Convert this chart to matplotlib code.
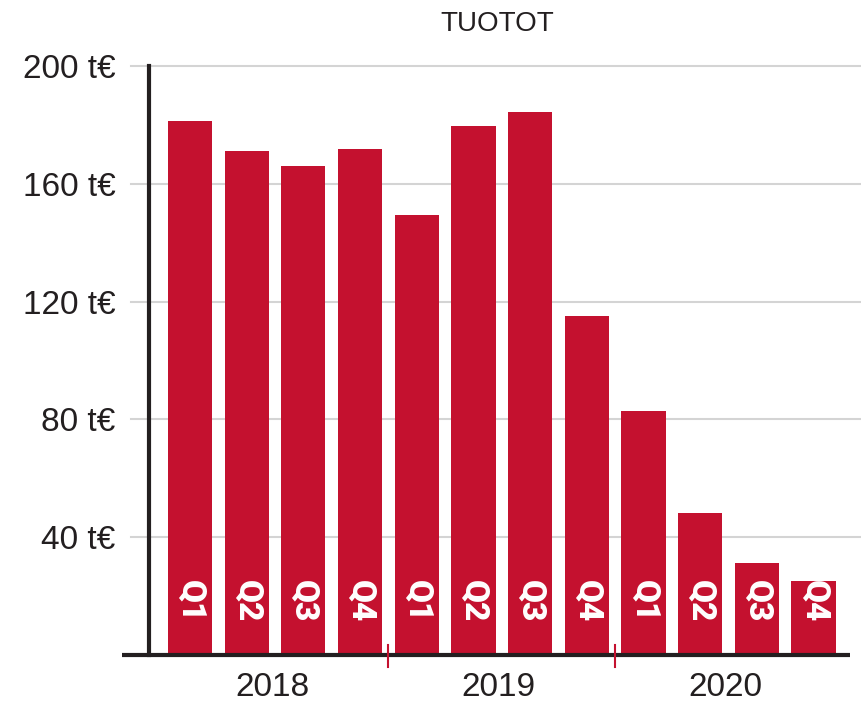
import matplotlib
matplotlib.use("Agg")
import matplotlib.pyplot as plt
from matplotlib import font_manager

plt.rcParams['font.family'] = ['Liberation Sans', 'DejaVu Sans']

# -- data -- #
years = ["2018", "2019", "2020"]
quarters = ["Q1", "Q2", "Q3", "Q4"]
values = [181.4, 171.2, 166.1, 171.9,
          149.5, 179.7, 184.4, 115.1,
          82.9, 48.2, 31.3, 25.1]
yticks = [40, 80, 120, 160, 200]
ytick_labels = ["40 t€", "80 t€", "120 t€", "160 t€", "200 t€"]

red = "#C4112F"
dark = "#231F20"

fig = plt.figure(figsize=(8.61, 7.05), dpi=100)
ax = fig.add_axes([149 / 861, 50 / 705, 711 / 861, 589 / 705])

xs = list(range(len(values)))
labels = quarters * len(years)

ax.bar(xs, values, width=0.78, color=red, zorder=2)

ax.set_xlim(-0.723, 11.82)
ax.set_ylim(0, 200)

# grid lines, reaching a bit left of the spine
ytrans = ax.get_yaxis_transform()
for y in yticks:
    ax.plot([-0.025, 1.0], [y, y], transform=ytrans, color="#D4D4D4",
            lw=1.5, zorder=0, clip_on=False)

for s in ["top", "right", "bottom"]:
    ax.spines[s].set_visible(False)
ax.spines["left"].set_color(dark)
ax.spines["left"].set_linewidth(3)
ax.spines["left"].set_zorder(4)

# bottom axis line
ax.plot([-0.038, 0.986], [0, 0], transform=ax.transAxes, color=dark,
        lw=3, solid_capstyle="butt", zorder=5, clip_on=False)

ax.set_xticks([])
ax.set_yticks(yticks)
ax.set_yticklabels(ytick_labels, fontsize=24, color=dark)
ax.tick_params(axis="y", length=0, pad=24)

# quarter labels inside bars
bold = font_manager.FontProperties(family=["Roboto", "DejaVu Sans"],
                                   weight="black", size=24)
for x, lab in zip(xs, labels):
    ax.annotate(lab, xy=(x, 0), xytext=(0, 39), textcoords="offset points",
                rotation=270, ha="center", va="center", color="white",
                fontproperties=bold, zorder=6)

# year labels and separators
xtrans = ax.get_xaxis_transform()
nq = len(quarters)
for k, yr in enumerate(years):
    center = k * nq + (nq - 1) / 2
    ax.text(center - 0.05, -0.056, yr, transform=xtrans, ha="center",
            va="center", fontsize=24, color=dark)
    if k > 0:
        sep = k * nq - 0.5
        ax.plot([sep, sep], [0.017, -0.020], transform=xtrans, color=red,
                lw=1.5, zorder=6, clip_on=False)

fig.text(497 / 861, 1 - 24 / 705, "TUOTOT", ha="center", va="center",
         fontsize=20, color=dark)

fig.savefig("out.png", dpi=100)
